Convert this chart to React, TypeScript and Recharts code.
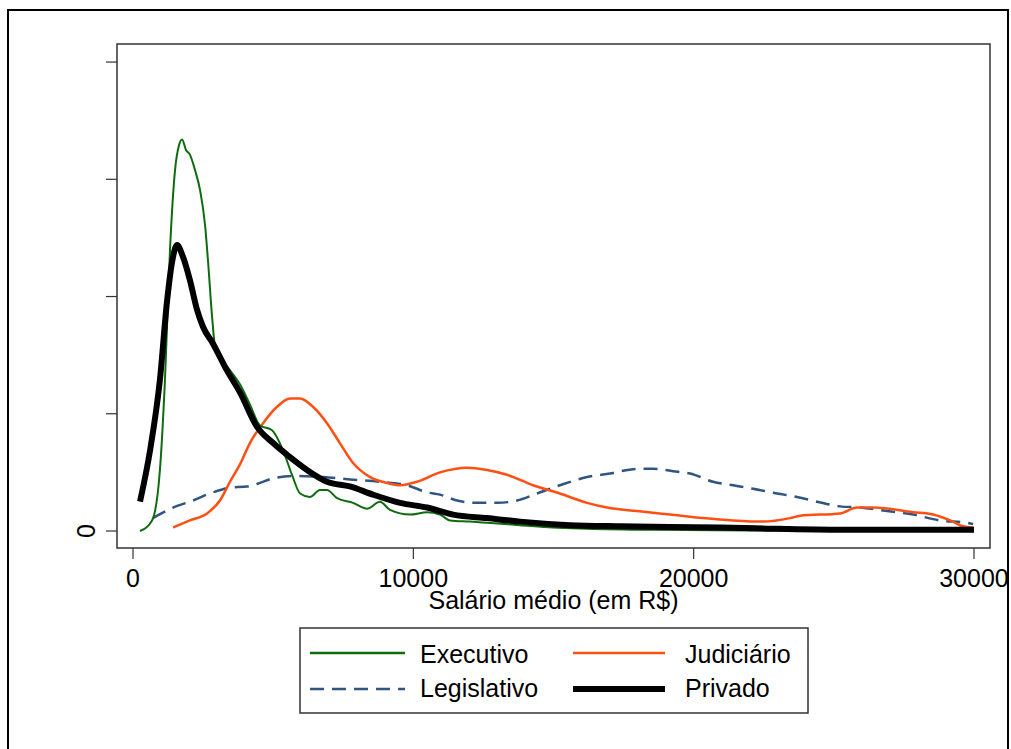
import React from 'react';
import { LineChart, Line, XAxis, YAxis, ReferenceArea } from 'recharts';

// Densidade do salário médio (valores em unidades de 1e-4)
const execX = [250, 680, 960, 1140, 1320, 1500, 1640, 1750, 1890, 2030, 2210, 2390, 2570, 2680, 2820, 2930, 3180, 3460, 3820, 4170, 4530, 4960, 5350, 5670, 5960, 6310, 6670, 6920, 7280, 7850, 8350, 8810, 9170, 9880, 10490, 10950, 11310, 12020, 12630, 13810, 14980, 16200, 18550, 22000, 26000, 30000];
const execY = [0, 0.09, 0.52, 1.29, 2.4, 3.08, 3.29, 3.34, 3.25, 3.21, 3.08, 2.91, 2.61, 2.29, 1.83, 1.57, 1.46, 1.37, 1.25, 1.08, 0.9, 0.86, 0.69, 0.48, 0.32, 0.29, 0.35, 0.35, 0.28, 0.24, 0.19, 0.25, 0.18, 0.14, 0.16, 0.14, 0.09, 0.08, 0.07, 0.05, 0.03, 0.02, 0.01, 0.005, 0.003, 0.002];

const judX = [1430, 2030, 2640, 3100, 3460, 3820, 4170, 4640, 5140, 5600, 5960, 6420, 6920, 7380, 7850, 8460, 9060, 9530, 10130, 10950, 11920, 12630, 13340, 14270, 15230, 16200, 16910, 17980, 19160, 20340, 21410, 22480, 23440, 23800, 25220, 25830, 26400, 27830, 28540, 29250, 29610, 29970];
const judY = [0.03, 0.09, 0.15, 0.26, 0.42, 0.57, 0.75, 0.92, 1.06, 1.13, 1.13, 1.06, 0.92, 0.75, 0.58, 0.46, 0.41, 0.39, 0.42, 0.5, 0.54, 0.52, 0.48, 0.39, 0.32, 0.24, 0.2, 0.17, 0.14, 0.11, 0.09, 0.08, 0.11, 0.13, 0.15, 0.2, 0.2, 0.16, 0.14, 0.08, 0.04, 0.03];

const legX = [710, 1430, 2140, 2850, 3460, 4070, 4530, 5000, 5850, 6780, 7740, 8810, 9780, 10490, 10950, 11560, 12270, 12990, 13700, 14410, 15230, 16200, 17020, 17980, 18550, 19270, 19870, 20690, 21410, 22120, 22980, 23690, 24400, 25220, 25940, 26900, 27830, 28790, 29750, 29970];
const legY = [0.11, 0.2, 0.26, 0.33, 0.37, 0.38, 0.41, 0.45, 0.47, 0.46, 0.44, 0.42, 0.39, 0.33, 0.31, 0.26, 0.24, 0.24, 0.26, 0.32, 0.39, 0.46, 0.49, 0.53, 0.53, 0.51, 0.49, 0.42, 0.39, 0.36, 0.32, 0.29, 0.25, 0.21, 0.2, 0.17, 0.14, 0.09, 0.07, 0.06];

const privX = [250, 610, 960, 1210, 1390, 1570, 1780, 2030, 2280, 2500, 2850, 3350, 3820, 4420, 5000, 5600, 6210, 6920, 7740, 8560, 9530, 10490, 11420, 12630, 13810, 15590, 17370, 20940, 22620, 25330, 30000];
const privY = [0.25, 0.69, 1.29, 1.95, 2.29, 2.44, 2.34, 2.14, 1.89, 1.74, 1.6, 1.37, 1.18, 0.89, 0.75, 0.63, 0.52, 0.42, 0.38, 0.31, 0.24, 0.2, 0.14, 0.11, 0.08, 0.05, 0.04, 0.03, 0.02, 0.01, 0.01];

const xTicks = [0, 10000, 20000, 30000];
const yTicks = [0, 1, 2, 3, 4];
const xDomain = [-571, 30571];
const yDomain = [-0.145, 4.154];

const toPoints = (xs: number[], ys: number[]) => xs.map((x, i) => ({ x, y: ys[i] }));

const FONT = '"Liberation Sans", Arial, sans-serif';
const FS = 25;

const YTick = (props: any) => {
  const { y, payload } = props;
  if (payload.value !== 0) return null;
  return (
    <text x={95} y={y} transform={`rotate(-90, 95, ${y})`} textAnchor="middle" fontSize={FS} fontFamily={FONT} fill="#000">
      0
    </text>
  );
};

const Legenda = () => (
  <svg width={510} height={87} style={{ position: 'absolute', left: 299, top: 627 }}>
    <rect x={1} y={1} width={508} height={85} fill="#fff" stroke="#333" strokeWidth={1.5} />
    <line x1={11} x2={106} y1={26} y2={26} stroke="#0e6b0e" strokeWidth={2.5} />
    <text x={121} y={36} fontSize={FS} fontFamily={FONT}>Executivo</text>
    <line x1={274} x2={366} y1={26} y2={26} stroke="#ff5014" strokeWidth={2.5} />
    <text x={386} y={36} fontSize={FS} fontFamily={FONT}>Judiciário</text>
    <line x1={11} x2={106} y1={62} y2={62} stroke="#2f5580" strokeWidth={2.5} strokeDasharray="14 8" />
    <text x={121} y={70} fontSize={FS} fontFamily={FONT}>Legislativo</text>
    <line x1={274} x2={366} y1={62} y2={62} stroke="#000" strokeWidth={6} />
    <text x={386} y={70} fontSize={FS} fontFamily={FONT}>Privado</text>
  </svg>
);

export default function App() {
  return (
    <div style={{ position: 'absolute', left: 0, top: 0, width: 1011, height: 749, overflow: 'hidden', background: '#fff' }}>
      <div style={{ position: 'absolute', left: 7, top: 9, width: 1002, height: 740, borderTop: '2px solid #000', borderLeft: '2px solid #000', borderRight: '2px solid #000', boxSizing: 'border-box' }} />
      <div style={{ position: 'absolute', left: 0, top: 0 }}>
        <LineChart width={1011} height={749} margin={{ top: 44, right: 21, left: 77, bottom: 171 }}>
          <XAxis
            type="number"
            dataKey="x"
            domain={xDomain}
            ticks={xTicks}
            allowDataOverflow
            height={30}
            tickSize={11}
            tickMargin={10}
            axisLine={false}
            tickLine={{ stroke: '#333', strokeWidth: 1.2 }}
            tick={{ fontSize: FS, fontFamily: FONT, fill: '#000' }}
            label={{ value: 'Salário médio (em R$)', position: 'bottom', offset: 13, fontSize: FS, fontFamily: FONT, fill: '#000' }}
          />
          <YAxis
            type="number"
            domain={yDomain}
            ticks={yTicks}
            allowDataOverflow
            width={40}
            tickSize={11}
            axisLine={false}
            tickLine={{ stroke: '#333', strokeWidth: 1.2 }}
            tick={<YTick />}
          />
          <ReferenceArea x1={xDomain[0]} x2={xDomain[1]} y1={yDomain[0]} y2={yDomain[1]} fill="none" fillOpacity={0} stroke="#333" strokeWidth={1.5} />
          <Line data={toPoints(legX, legY)} dataKey="y" type="monotone" stroke="#2f5580" strokeWidth={2.5} strokeDasharray="14 8" dot={false} isAnimationActive={false} />
          <Line data={toPoints(judX, judY)} dataKey="y" type="monotone" stroke="#ff5014" strokeWidth={2.5} dot={false} isAnimationActive={false} />
          <Line data={toPoints(execX, execY)} dataKey="y" type="monotone" stroke="#0e6b0e" strokeWidth={2} dot={false} isAnimationActive={false} />
          <Line data={toPoints(privX, privY)} dataKey="y" type="monotone" stroke="#000" strokeWidth={6} strokeLinejoin="round" dot={false} isAnimationActive={false} />
        </LineChart>
      </div>
      <Legenda />
    </div>
  );
}
